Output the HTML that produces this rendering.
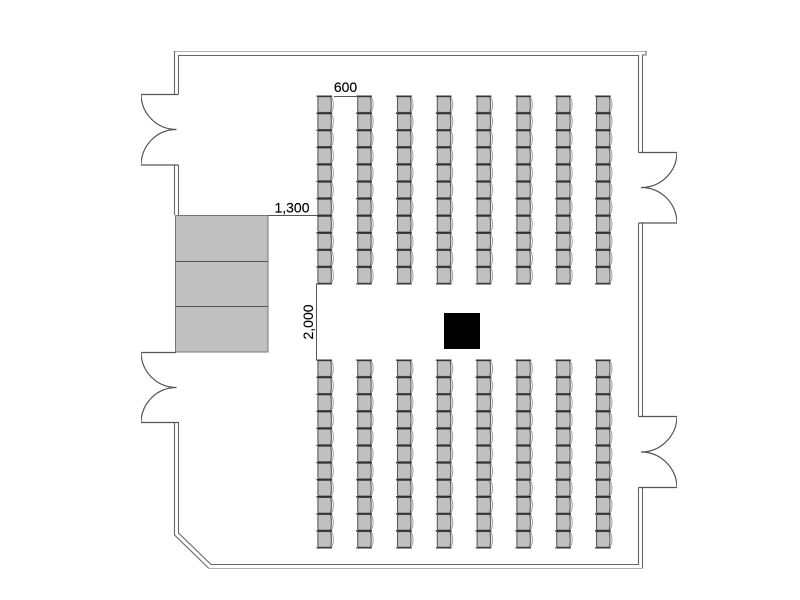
<!DOCTYPE html>
<html>
<head>
<meta charset="utf-8">
<style>
html,body{margin:0;padding:0;background:#fff;width:800px;height:600px;overflow:hidden}
svg{display:block}
text{font-family:"Liberation Sans",sans-serif;font-size:14px;fill:#000;stroke:#000;stroke-width:0.15}
</style>
</head>
<body>
<svg width="800" height="600" viewBox="0 0 800 600" xmlns="http://www.w3.org/2000/svg">
<defs>
<filter id="b" x="0" y="0" width="100%" height="100%"><feGaussianBlur stdDeviation="0.35"/></filter>
<g id="c">
  <path d="M14.300 0.800 Q18 8.500 14.300 16.300" fill="none" stroke="#999" stroke-width="0.900"/>
  <path d="M2.400 0.700 H13.400 Q14.800 8.500 13.400 16.400 H2.400 Q0.600 16.400 0.600 14.600 V2.500 Q0.600 0.700 2.400 0.700 Z" fill="#c0c0c0" stroke="#5c5c5c" stroke-width="1.100"/>
  <path d="M-0.800 0.200 H14.800 M-0.800 17 H14.800" stroke="#333" stroke-width="1.300"/>
</g>
<g id="col">
  <use href="#c" y="0"/><use href="#c" y="17.09"/><use href="#c" y="34.18"/><use href="#c" y="51.27"/>
  <use href="#c" y="68.36"/><use href="#c" y="85.45"/><use href="#c" y="102.54"/><use href="#c" y="119.63"/>
  <use href="#c" y="136.72"/><use href="#c" y="153.81"/><use href="#c" y="170.9"/>
</g>
<g id="block">
  <use href="#col" x="0"/><use href="#col" x="39.8"/><use href="#col" x="79.6"/><use href="#col" x="119.4"/>
  <use href="#col" x="159.2"/><use href="#col" x="199"/><use href="#col" x="238.8"/><use href="#col" x="278.6"/>
</g>
</defs>

<g filter="url(#b)">
<!-- stage -->
<rect x="175.500" y="215.500" width="92.500" height="136.500" fill="#c0c0c0" stroke="#777" stroke-width="1"/>
<path d="M175.500 261.500 H268 M175.500 306.500 H268" stroke="#555" stroke-width="1" fill="none"/>

<!-- walls -->
<g fill="none" stroke="#666" stroke-width="1.100">
  <path d="M174.500 94 V51 H646 V55 H642.500 V152.500"/>
  <path d="M178.500 94 V55.500 H638.500 V152.500"/>
  <path d="M174.500 165 V215 M178.500 165 V215"/>
  <path d="M174.500 422 V535 L209 568.500 H642.500 V487.500"/>
  <path d="M178.500 422 V533 L211 564.500 H638.500 V487.500"/>
  <path d="M638.500 223 V416.500 M642.500 223 V416.500"/>
</g>

<!-- doors -->
<g fill="none" stroke="#555" stroke-width="1.200">
  <path d="M178.500 94.500 H141 C141.500 114 157 129.500 176.500 129.500 C157 129.500 141.500 145 141 165 H178.500"/>
  <path d="M176 352.500 H141 C141.500 372 157 387.500 176.500 387.500 C157 387.500 141.500 403 141 422.500 H178.500"/>
  <path d="M638.500 152.500 H677 C676.500 172 661 187.500 641 187.500 C661 187.500 676.500 203 677 223 H638.500"/>
  <path d="M638.500 416.500 H677 C676.500 436 661 452 641 452 C661 452 676.500 468 677 487.500 H638.500"/>
</g>

<!-- chairs -->
<use href="#block" x="317.300" y="96"/>
<use href="#block" x="317.300" y="360"/>

<!-- black column -->
<rect x="444" y="313" width="36" height="36" fill="#000"/>

<!-- dimensions -->
<path d="M334 96.500 H357 M268 215.500 H317 M316.500 284 V360" stroke="#555" stroke-width="1" fill="none"/>
<text x="345.500" y="92" text-anchor="middle">600</text>
<text x="292" y="212.500" text-anchor="middle">1,300</text>
<text transform="translate(313,322) rotate(-90)" text-anchor="middle">2,000</text>
</g>
</svg>
</body>
</html>
